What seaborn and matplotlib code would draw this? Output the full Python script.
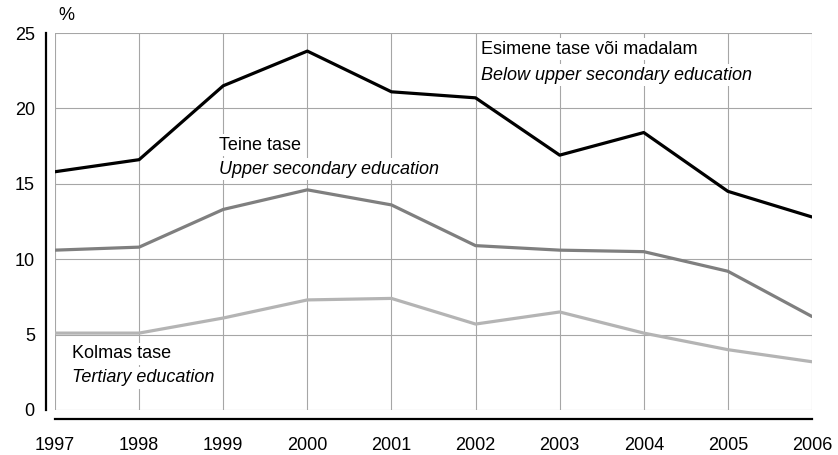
import matplotlib
matplotlib.use("Agg")
import matplotlib.pyplot as plt
import seaborn as sns
import pandas as pd

years = [1997, 1998, 1999, 2000, 2001, 2002, 2003, 2004, 2005, 2006]
below_upper_secondary = [15.8, 16.6, 21.5, 23.8, 21.1, 20.7, 16.9, 18.4, 14.5, 12.8]
upper_secondary = [10.6, 10.8, 13.3, 14.6, 13.6, 10.9, 10.6, 10.5, 9.2, 6.2]
tertiary = [5.1, 5.1, 6.1, 7.3, 7.4, 5.7, 6.5, 5.1, 4.0, 3.2]
series_names = ["below", "upper", "tertiary"]
y_ticks = [0, 5, 10, 15, 20, 25]

df = pd.DataFrame({
    "year": years * 3,
    "value": below_upper_secondary + upper_secondary + tertiary,
    "level": sum([[n] * len(years) for n in series_names], []),
})

sns.set_style("white")
plt.rcParams["font.family"] = ["Liberation Sans", "DejaVu Sans"]
plt.rcParams["text.color"] = "black"

FS = 13.0
W, H = 838, 455
fig = plt.figure(figsize=(W / 100, H / 100), dpi=100)
ax = fig.add_axes([55 / W, 1 - 410 / H, (812 - 55) / W, (410 - 33) / H])

palette = {"below": "#000000", "upper": "#7f7f7f", "tertiary": "#b4b4b4"}
sns.lineplot(data=df, x="year", y="value", hue="level", palette=palette,
             linewidth=2.3, legend=False, ax=ax, zorder=3)

ax.set_xlim(1997, 2006)
ax.set_ylim(0, 25)
ax.set_xticks(years)
ax.set_yticks(y_ticks)
ax.set_xlabel("")
ax.set_ylabel("")

ax.grid(True, color="#a6a6a6", linewidth=0.8)
for gl in ax.get_xgridlines() + ax.get_ygridlines():
    gl.set_clip_on(False)
ax.set_axisbelow(True)

for s in ["top", "right"]:
    ax.spines[s].set_visible(False)
for s in ["left", "bottom"]:
    ax.spines[s].set_color("black")
    ax.spines[s].set_linewidth(1.6)
    ax.spines[s].set_position(("outward", 6.5))

ax.tick_params(axis="both", which="major", direction="out", length=4,
               width=0.8, color="black", labelsize=FS, labelcolor="black")
ax.tick_params(axis="x", pad=9)
ax.tick_params(axis="y", pad=4)

fig.text(58 / W, 1 - 16 / H, "%", fontsize=FS, va="center", ha="left",
         color="black")

box = dict(facecolor="white", edgecolor="none", pad=1.5)


def label(px, py, text, italic=False):
    ax.text(1997 + (px - 55) / 84.1, 25 - (py - 33) / 15.08, text,
            fontsize=FS, style="italic" if italic else "normal",
            color="black", va="center", ha="left", bbox=box, zorder=2.5)


label(481, 49, "Esimene tase või madalam")
label(481, 75, "Below upper secondary education", italic=True)
label(219, 145, "Teine tase")
label(219, 169, "Upper secondary education", italic=True)
label(72, 354, "Kolmas tase")
label(72, 378, "Tertiary education", italic=True)

fig.savefig("out.png", dpi=100)
